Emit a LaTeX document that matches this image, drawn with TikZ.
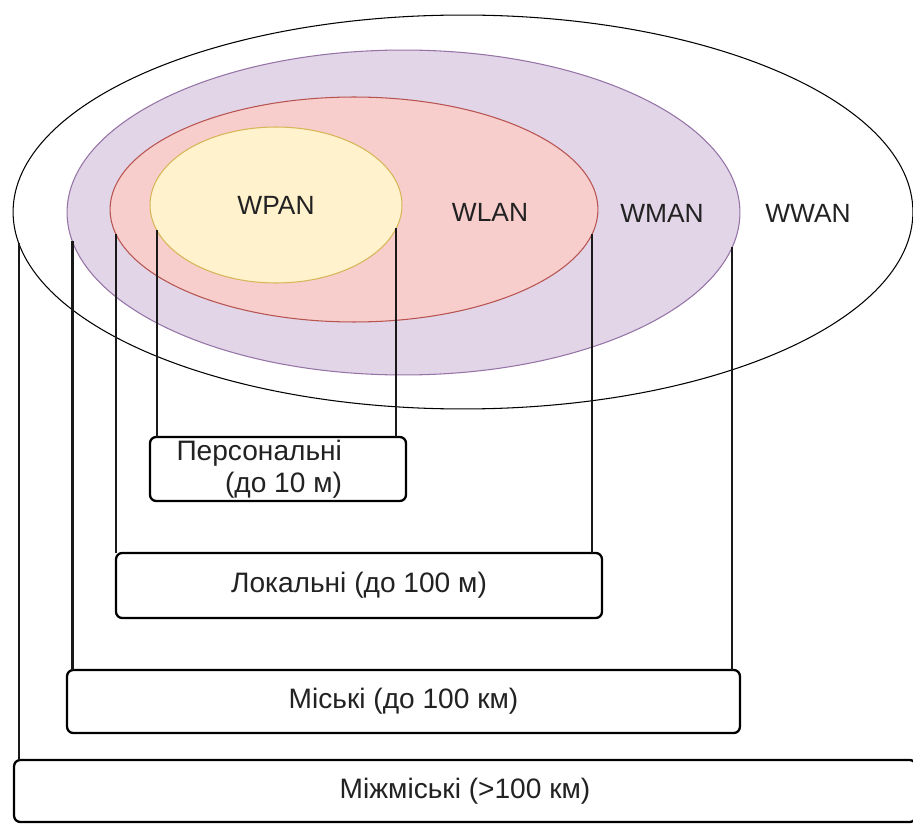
\documentclass[tikz,border=0pt]{standalone}
\usepackage{fontspec}
\setmainfont{Liberation Sans}
\usetikzlibrary{shapes.geometric}
\definecolor{panfill}{HTML}{FFF2CC}\definecolor{panline}{HTML}{D6B656}
\definecolor{lanfill}{HTML}{F8CECC}\definecolor{lanline}{HTML}{B85450}
\definecolor{manfill}{HTML}{E1D5E7}\definecolor{manline}{HTML}{9673A6}
\definecolor{txt}{HTML}{222222}
\tikzset{zone/.style={ellipse, draw, inner sep=0pt, outer sep=0pt, line width=0.6pt}}
\tikzset{rangebox/.style={draw, fill=white, rounded corners=3.5pt, line width=1.3pt, inner sep=0pt, outer sep=0pt, text=txt, font=\fontsize{16}{18}\selectfont}}
\tikzset{tag/.style={text=txt, font=\fontsize{15}{18}\selectfont}}
\tikzset{drop/.style={line width=1.4pt, color=black!90}}

\begin{document}
\begin{tikzpicture}[x=0.02cm, y=-0.02cm]
\useasboundingbox (0,0) rectangle (913,824);
\clip (0,0) rectangle (913,824);

% nested coverage areas
\node[zone, minimum width=18cm, minimum height=7.88cm] (wwan) at (463,212) {};
\node[zone, fill=manfill, draw=manline, minimum width=13.46cm, minimum height=6.5cm] (wman) at (403.5,212.5) {};
\node[zone, fill=lanfill, draw=lanline, minimum width=9.76cm, minimum height=4.5cm] (wlan) at (354,209.5) {};
\node[zone, fill=panfill, draw=panline, minimum width=5.04cm, minimum height=3.12cm, tag] (wpan) at (276,205) {WPAN};

\node[tag] (lanlbl) at (490,212) {WLAN};
\node[tag] (manlbl) at (662,213) {WMAN};
\node[tag] (wanlbl) at (808,213) {WWAN};

% range boxes
\node[rangebox, minimum width=5.12cm, minimum height=1.28cm, align=right] (pers) at (278,469) {Персональні\hspace*{0.75cm}\\(до 10 м)\hspace*{0.75cm}};
\node[rangebox, minimum width=9.72cm, minimum height=1.3cm] (loc) at (359,585.5) {Локальні (до 100 м)};
\node[rangebox, minimum width=13.46cm, minimum height=1.26cm] (city) at (403.5,701.5) {Міські (до 100 км)};
\node[rangebox, minimum width=18.04cm, minimum height=1.24cm] (far) at (465,791) {Міжміські (>100 км)};

\draw[drop] (wpan.192) -- (wpan.192 |- pers.north);
\draw[drop] (wpan.349) -- (wpan.349 |- pers.north);
\draw[drop] (wlan.186) -- (wlan.186 |- loc.north);
\draw[drop] (wlan.354) -- (wlan.354 |- loc.north);
\draw[drop] (wman.185) -- (wman.185 |- city.north);
\draw[drop] (wman.354) -- (wman.354 |- city.north);
\draw[drop] (wwan.184) -- (wwan.184 |- far.north);

\end{tikzpicture}
\end{document}
